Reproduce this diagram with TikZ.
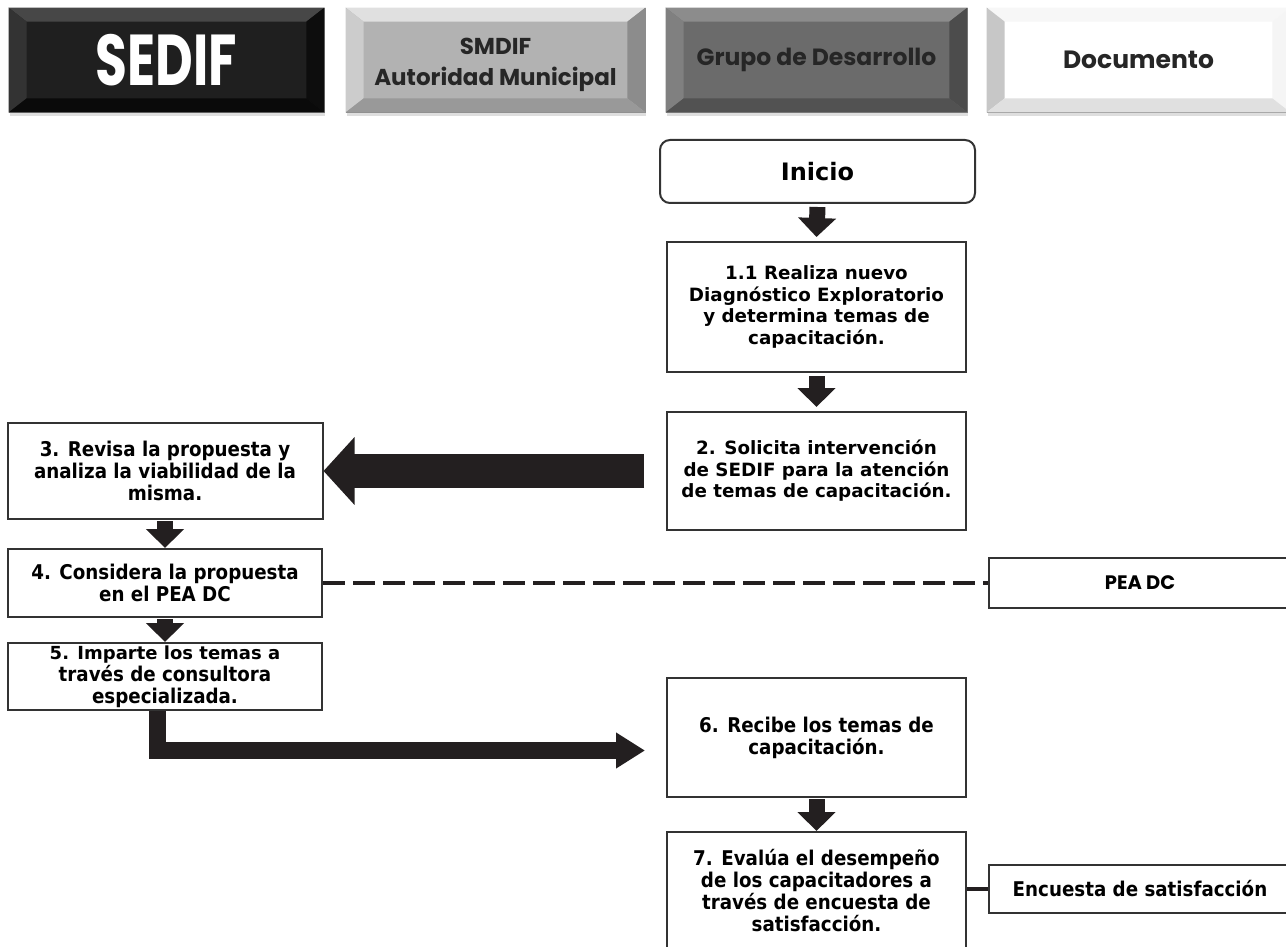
\documentclass[tikz,border=0pt]{standalone}
\usepackage{fontspec}
\usetikzlibrary{arrows.meta,shadows}
\newfontfamily\boxfont{DejaVu Sans}
\newfontfamily\condfont{DejaVu Sans Condensed}
\newfontfamily\headfont{Poppins}
\definecolor{arrowblk}{HTML}{231F20}
\definecolor{linegray}{HTML}{333333}

\begin{document}
\begin{tikzpicture}[x=1pt,y=-1pt,
  head/.style={minimum width=301pt,minimum height=104pt,inner sep=0pt,align=center,
    draw=black!45,line width=0.8pt,font=\headfont\bfseries,
    drop shadow={shadow xshift=1pt,shadow yshift=-4pt,fill=black!25}},
  task/.style={draw=linegray,line width=2pt,fill=white,minimum width=299pt,inner sep=1pt,
    align=center,font=\boxfont\bfseries\fontsize{18.3}{21.5}\selectfont},
  ctask/.style={task,font=\condfont\bfseries\fontsize{20.3}{22}\selectfont},
  doc/.style={task,minimum width=302pt,anchor=west},
  flow/.style={draw=arrowblk,line width=16pt,-{Triangle[width=37pt,length=19pt]}},
  bigflow/.style={draw=arrowblk,line width=34pt,-{Triangle[width=66pt,length=31pt]}},
  lflow/.style={draw=arrowblk,line width=17pt,line join=miter,-{Triangle[width=34pt,length=29pt]}},
  doclink/.style={draw=arrowblk,line width=4.5pt}]
% Parameters
\def\xleft{165}; \def\xmid{816.5}; \def\xdoc{988};
\def\bevel#1#2#3#4#5{%
  \fill[#2] (#1.north west) -- (#1.north east) -- ([shift={(-18,14)}]#1.north east) -- ([shift={(18,14)}]#1.north west) -- cycle;
  \fill[#3] (#1.north west) -- ([shift={(18,14)}]#1.north west) -- ([shift={(18,-14)}]#1.south west) -- (#1.south west) -- cycle;
  \fill[#4] (#1.north east) -- ([shift={(-18,14)}]#1.north east) -- ([shift={(-18,-14)}]#1.south east) -- (#1.south east) -- cycle;
  \fill[#5] (#1.south west) -- ([shift={(18,-14)}]#1.south west) -- ([shift={(-18,-14)}]#1.south east) -- (#1.south east) -- cycle;}

\fill[white] (0,0) rectangle (1286,947);
\useasboundingbox (0,0) rectangle (1286,947);

% Headers
\node[head,fill=black!88,minimum width=315pt] (sedif) at (166.5,60) {};
\node[head,fill=black!30,minimum width=299pt] (smdif) at (495.5,60) {};
\node[head,fill=black!58] (grupo) at (816.5,60) {};
\node[head,fill=white,minimum width=303pt] (docu) at (1138.5,60) {};
\bevel{sedif}{black!72}{black!80}{black!95}{black!96}
\bevel{smdif}{black!12}{black!20}{black!45}{black!40}
\bevel{grupo}{black!45}{black!50}{black!70}{black!68}
\bevel{docu}{black!3}{black!22}{black!4}{black!12}
\node[text=white,font=\headfont\bfseries] at (sedif) {\scalebox{0.72}[1]{\fontsize{72}{72}\selectfont SEDIF}};
\node[text=black!85,align=center,font=\headfont\bfseries\fontsize{23}{31}\selectfont] at ([yshift=-5pt]smdif.center) {SMDIF\\Autoridad Municipal};
\node[text=black!85,font=\headfont\bfseries\fontsize{23.5}{27}\selectfont] at (grupo) {Grupo de Desarrollo};
\node[text=black!85,font=\headfont\bfseries\fontsize{25}{29}\selectfont] at (docu) {Documento};

% Boxes
\node[task,rounded corners=10pt,minimum width=315pt,minimum height=63pt,font=\boxfont\bfseries\fontsize{24}{28}\selectfont] (ini) at (817.5,171.5) {Inicio};
\node[task,minimum height=130pt] (n11) at (\xmid,307) {1.1 Realiza nuevo\\Diagnóstico Exploratorio\\y determina temas de\\capacitación.};
\node[task,minimum height=118pt] (n2) at (\xmid,471) {2. Solicita intervención\\de SEDIF para la atención\\de temas de capacitación.};
\node[ctask,minimum width=315pt,minimum height=96pt] (n3) at (\xleft,471) {3. Revisa la propuesta y\\analiza la viabilidad de la\\misma.};
\node[ctask,minimum width=314pt,minimum height=68pt] (n4) at (\xleft,583) {4. Considera la propuesta\\en el PEA DC};
\node[ctask,minimum width=314pt,minimum height=67pt] (n5) at (\xleft,676.5) {{\boxfont\fontsize{18}{21}\selectfont 5. Imparte los temas a}\\través de consultora\\especializada.};
\node[ctask,minimum height=119pt] (n6) at (\xmid,737.5) {6. Recibe los temas de\\capacitación.};
\node[ctask,minimum height=118pt] (n7) at (\xmid,891) {7. Evalúa el desempeño\\de los capacitadores a\\través de encuesta de\\satisfacción.};
\node[doc,minimum height=50pt,font=\headfont\bfseries\fontsize{19.5}{22}\selectfont] (pea) at (\xdoc,583) {PEA DC};
\node[doc,ctask,anchor=west,minimum width=302pt,minimum height=48pt] (enc) at (\xdoc,889) {Encuesta de satisfacción};

% Arrows
\draw[flow] ([yshift=-3pt]ini.south) -- ([yshift=4pt]n11.north);
\draw[flow] ([yshift=-3pt]n11.south) -- ([yshift=4pt]n2.north);
\draw[bigflow] ([xshift=-22pt]n2.west) -- (n3.east);
\draw[flow] ([yshift=-1pt]n3.south) -- (n4.north);
\draw[flow] ([yshift=-1pt]n4.south) -- (n5.north);
\draw[lflow] ([xshift=-8pt]n5.south) |- ([xshift=-21pt,yshift=-13pt]n6.west);
\draw[flow] ([yshift=-1pt]n6.south) -- (n7.north);
\draw[doclink,dash pattern=on 22pt off 8pt] (n4.east) -- (pea.west);
\draw[doclink] (n7.east |- enc.west) -- (enc.west);
\end{tikzpicture}
\end{document}
